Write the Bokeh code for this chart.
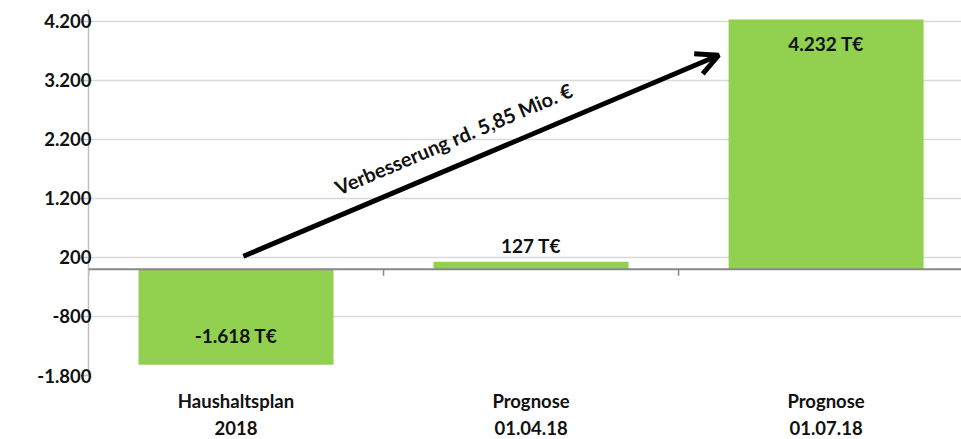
from bokeh.plotting import figure
from bokeh.models import Range1d, FixedTicker, Span, Arrow, OpenHead, ColumnDataSource, LinearAxis
from bokeh.core.properties import value
from bokeh.embed import file_html
from bokeh.resources import INLINE
import math

categories = ["Haushaltsplan\n2018", "Prognose\n01.04.18", "Prognose\n01.07.18"]
values = [-1618, 127, 4232]
value_labels = ["-1.618 T€", "127 T€", "4.232 T€"]
y_ticks = [-1800, -800, 200, 1200, 2200, 3200, 4200]
y_tick_labels = ["-1.800", "-800", "200", "1.200", "2.200", "3.200", "4.200"]
arrow_text = "Verbesserung rd. 5,85 Mio. €"

FONT = "Lato"
GREEN = "#92D050"
TXT = "#111111"

x_pos = [i + 0.5 for i in range(len(categories))]
line1 = [c.split("\n")[0] for c in categories]
line2 = [c.split("\n")[1] for c in categories]

p = figure(width=961, height=439, output_backend="svg", toolbar_location=None,
           x_range=Range1d(0, 2.959), y_range=Range1d(-1800, 4400),
           min_border_left=88, min_border_right=0, min_border_top=9, min_border_bottom=64)
p.outline_line_color = None
p.background_fill_color = "white"
p.border_fill_color = "white"

# grid
p.xgrid.grid_line_color = None
p.ygrid.ticker = FixedTicker(ticks=y_ticks)
p.ygrid.grid_line_color = "#d9d9d9"
p.ygrid.grid_line_width = 1.5

# y axis
p.yaxis.ticker = FixedTicker(ticks=y_ticks)
p.yaxis.major_label_overrides = {t: l for t, l in zip(y_ticks, y_tick_labels)}
p.yaxis.axis_line_color = "#bfbfbf"
p.yaxis.axis_line_width = 1.5
p.yaxis.major_tick_line_color = "#bfbfbf"
p.yaxis.major_tick_line_width = 1.5
p.yaxis.major_tick_out = 8
p.yaxis.major_tick_in = 0
p.yaxis.minor_tick_line_color = None
p.yaxis.major_label_text_font = FONT
p.yaxis.major_label_text_font_style = "bold"
p.yaxis.major_label_text_font_size = "18.5px"
p.yaxis.major_label_text_color = TXT
p.yaxis.major_label_standoff = -11


def style_x(ax, labels, standoff):
    ax.ticker = FixedTicker(ticks=x_pos)
    ax.major_label_overrides = {x: c for x, c in zip(x_pos, labels)}
    ax.axis_line_color = None
    ax.major_tick_line_color = None
    ax.minor_tick_line_color = None
    ax.major_tick_out = 0
    ax.major_tick_in = 0
    ax.minor_tick_out = 0
    ax.major_label_text_font = FONT
    ax.major_label_text_font_style = "bold"
    ax.major_label_text_font_size = "18.5px"
    ax.major_label_text_color = TXT
    ax.major_label_standoff = standoff


style_x(p.xaxis[0], line1, 14)
ax2 = LinearAxis()
style_x(ax2, line2, 6)
p.add_layout(ax2, "below")

# bars
src = ColumnDataSource(dict(x=x_pos, top=values))
p.vbar(x="x", top="top", bottom=0, width=0.661, source=src, fill_color=GREEN, line_color=None)

# zero line with category tick marks
p.add_layout(Span(location=0, dimension="width", line_color="#878787", line_width=2))
bounds = [i for i in range(len(categories))]
p.segment(x0=bounds, x1=bounds, y0=[0] * len(bounds), y1=[-110] * len(bounds),
          line_color="#878787", line_width=1.5)

# value labels
label_y = [-1130, 400, 3830]
p.text(x=x_pos, y=label_y, text=value_labels, text_font=value(FONT),
       text_font_style="bold", text_font_size="19px", text_color=TXT,
       text_align="center", text_baseline="middle")

# arrow
p.add_layout(Arrow(end=OpenHead(size=22, line_width=5, line_color="black"),
                   x_start=0.525, y_start=220, x_end=2.136, y_end=3625,
                   line_width=5, line_color="black"))

angle = math.atan2(201, 475)
p.text(x=[1.237], y=[2214], text=[arrow_text], angle=angle, text_font=value(FONT),
       text_font_style="bold", text_font_size="20px", text_color=TXT,
       text_align="center", text_baseline="middle")

open("out.html", "w").write(file_html(p, INLINE))
